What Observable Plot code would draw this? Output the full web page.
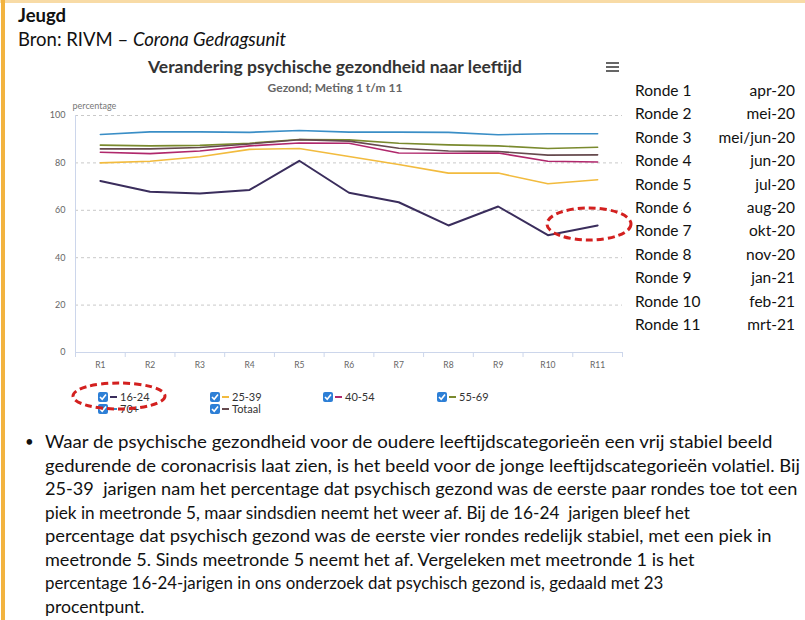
<!DOCTYPE html>
<html><head><meta charset="utf-8">
<script src="https://cdn.jsdelivr.net/npm/d3@7"></script>
<script src="https://cdn.jsdelivr.net/npm/@observablehq/plot@0.6"></script>
<style>
body{margin:0;background:#fff;}
#page{position:relative;width:805px;height:620px;overflow:hidden;font-family:Lato,"Open Sans",sans-serif;background:#fff;color:#111;}
.abs{position:absolute;white-space:pre;}
#chart{position:absolute;left:0;top:95px;}
#chart svg{overflow:visible;}
.row{position:absolute;left:635px;width:160px;font-size:15.5px;color:#111;}
.row .d{position:absolute;right:0;top:0;}
.leg{position:absolute;font-size:11px;color:#333;display:flex;align-items:center;white-space:nowrap;}
.cb{display:inline-block;width:10px;height:10px;background:#2d7fd6;border-radius:2px;margin-right:2px;position:relative;}
.dash{display:inline-block;width:7px;height:2px;margin-right:3px;}
#body{position:absolute;left:45px;top:430px;}
#body div{white-space:pre;font-size:18px;line-height:23.5px;height:23.5px;color:#111;}
#body span{display:inline-block;transform-origin:0 50%;}
</style></head><body>
<div id="page">
  <div class="abs" style="left:0;top:0;width:805px;height:3px;background:#f8dba6;"></div>
  <div class="abs" style="left:1px;top:0;width:4px;height:620px;background:#f2b33f;"></div>
  <div class="abs" style="left:18px;top:4px;font-size:18.5px;font-weight:700;">Jeugd</div>
  <div class="abs" style="left:18px;top:28px;font-size:18.5px;">Bron: RIVM – <i>Corona Gedragsunit</i></div>
  <div class="abs" id="title" style="left:0;width:670px;text-align:center;top:56px;font-size:17.5px;font-weight:700;color:#333;">Verandering psychische gezondheid naar leeftijd</div>
  <div class="abs" id="subtitle" style="left:0;width:670px;text-align:center;top:80px;font-size:12px;font-weight:700;color:#666;">Gezond; Meting 1 t/m 11</div>
  <svg class="abs" style="left:606px;top:61px;" width="14" height="12"><rect x="0" y="1" width="13" height="2" fill="#666"/><rect x="0" y="5" width="13" height="2" fill="#666"/><rect x="0" y="9" width="13" height="2" fill="#666"/></svg>
  <div id="chart"></div>
  <div id="legend"></div>
  <div id="table"></div>
  <div class="abs" style="left:25px;top:430px;font-size:15px;line-height:23.5px;">•</div>
  <div id="body"></div>
  <svg class="abs" style="left:0;top:0;pointer-events:none;" width="805" height="620">
    <ellipse cx="589" cy="224" rx="42" ry="16" fill="none" stroke="#d3201f" stroke-width="3" stroke-dasharray="7,4"/>
    <ellipse cx="119" cy="396" rx="46" ry="13" fill="none" stroke="#d3201f" stroke-width="3" stroke-dasharray="7,4"/>
  </svg>
</div>
<script>
const rounds = ["R1","R2","R3","R4","R5","R6","R7","R8","R9","R10","R11"];
const rondeNames = ["Ronde 1","Ronde 2","Ronde 3","Ronde 4","Ronde 5","Ronde 6","Ronde 7","Ronde 8","Ronde 9","Ronde 10","Ronde 11"];
const rondeDates = ["apr-20","mei-20","mei/jun-20","jun-20","jul-20","aug-20","okt-20","nov-20","jan-21","feb-21","mrt-21"];
const yTicks = [0,20,40,60,80,100];

const age1624 = [72.4, 67.8, 67.1, 68.6, 80.9, 67.4, 63.4, 53.6, 61.6, 49.5, 53.6];
const age2539 = [80.0, 80.7, 82.6, 85.7, 86.1, 82.7, 79.3, 75.7, 75.7, 71.2, 72.9];
const age4054 = [84.5, 83.9, 85.0, 87.2, 88.4, 88.3, 84.2, 84.1, 84.2, 80.7, 80.4];
const age5569 = [87.5, 87.2, 87.4, 88.3, 89.9, 89.7, 88.3, 87.6, 87.2, 86.1, 86.6];
const age70 = [92.0, 93.1, 93.1, 92.9, 93.7, 93.0, 93.0, 92.9, 91.9, 92.3, 92.3];
const totaal = [85.9, 85.9, 86.5, 88.0, 89.8, 89.2, 86.2, 85.0, 84.8, 83.3, 83.4];

const seriesNames = ["16-24","25-39","40-54","55-69","70+","Totaal"];
const seriesValues = [age1624, age2539, age4054, age5569, age70, totaal];
const seriesColors = ["#3a2d5c","#f2bb3e","#b0286c","#7a8a2e","#3a8ec6","#664a4e"];

const bodyLines = [
 "Waar de psychische gezondheid voor de oudere leeftijdscategorieën een vrij stabiel beeld",
 "gedurende de coronacrisis laat zien, is het beeld voor de jonge leeftijdscategorieën volatiel. Bij",
 "25-39  jarigen nam het percentage dat psychisch gezond was de eerste paar rondes toe tot een",
 "piek in meetronde 5, maar sindsdien neemt het weer af. Bij de 16-24  jarigen bleef het",
 "percentage dat psychisch gezond was de eerste vier rondes redelijk stabiel, met een piek in",
 "meetronde 5. Sinds meetronde 5 neemt het af. Vergeleken met meetronde 1 is het",
 "percentage 16-24-jarigen in ons onderzoek dat psychisch gezond is, gedaald met 23",
 "procentpunt."
];
const bodyLineWidths = [727, 755, 752, 645, 727, 650, 618, 100];

const idx = d3.range(rounds.length);
const boundaries = d3.range(rounds.length + 1).map(i => i - 0.5);
const drawOrder = [4, 3, 5, 2, 1, 0];

const plot = Plot.plot({
  width: 630, height: 275,
  marginLeft: 75, marginRight: 8, marginTop: 20, marginBottom: 18,
  x: {type: "linear", domain: [-0.5, rounds.length - 0.5]},
  y: {domain: [0, 100]},
  style: {fontFamily: "Lato, sans-serif", fontSize: "9px", color: "#666", background: "transparent"},
  marks: [
    Plot.gridY(yTicks.filter(d => d > 0), {stroke: "#c9c9c9", strokeOpacity: 1, strokeDasharray: "3,3"}),
    Plot.ruleY([0], {stroke: "#ccd6eb"}),
    Plot.ruleX([-0.5], {stroke: "#ccd6eb"}),
    Plot.axisY(yTicks, {tickSize: 0, tickPadding: 10, label: null, fill: "#666"}),
    Plot.axisX(boundaries, {tickSize: 5, tickFormat: () => "", stroke: "#ccd6eb", label: null}),
    Plot.axisX(idx, {tickSize: 0, tickPadding: 9, tickFormat: i => rounds[i], label: null, fill: "#666", fontSize: 8.5}),
    Plot.text(["percentage"], {frameAnchor: "top-left", dx: -3, dy: -13, textAnchor: "start", fill: "#777", fontSize: 9}),
    ...drawOrder.map(k => Plot.line(seriesValues[k], {x: (d, i) => i, y: d => d, stroke: seriesColors[k], strokeWidth: k === 0 ? 2 : 1.6}))
  ]
});
document.getElementById("chart").appendChild(plot);

// legend
const legPos = [[98,390],[210,390],[323,390],[437,390],[98,402],[210,402]];
const legend = document.getElementById("legend");
seriesNames.forEach((n, k) => {
  const el = document.createElement("div");
  el.className = "leg";
  el.style.left = legPos[k][0] + "px";
  el.style.top = legPos[k][1] + "px";
  el.innerHTML = `<span class="cb"><svg width="10" height="10" style="position:absolute;left:0;top:0"><path d="M2 5 L4.2 7.3 L8 2.6" stroke="#fff" stroke-width="1.6" fill="none"/></svg></span><span class="dash" style="background:${seriesColors[k]}"></span><span>${n}</span>`;
  legend.appendChild(el);
});

// ronde table
const table = document.getElementById("table");
rondeNames.forEach((r, i) => {
  const el = document.createElement("div");
  el.className = "row";
  el.style.top = (81 + i * 23.4) + "px";
  el.innerHTML = `<span>${r}</span><span class="d">${rondeDates[i]}</span>`;
  table.appendChild(el);
});

// body text, each line fitted to the reference's line length
const body = document.getElementById("body");
const spans = bodyLines.map(t => {
  const el = document.createElement("div");
  const sp = document.createElement("span");
  sp.textContent = t;
  el.appendChild(sp);
  body.appendChild(el);
  return sp;
});
function fit() {
  spans.forEach((sp, i) => {
    const w = sp.offsetWidth;
    sp.style.transform = `scaleX(${bodyLineWidths[i] / w})`;
  });
}
fit();
if (document.fonts && document.fonts.ready) document.fonts.ready.then(fit);
</script>
</body></html>
